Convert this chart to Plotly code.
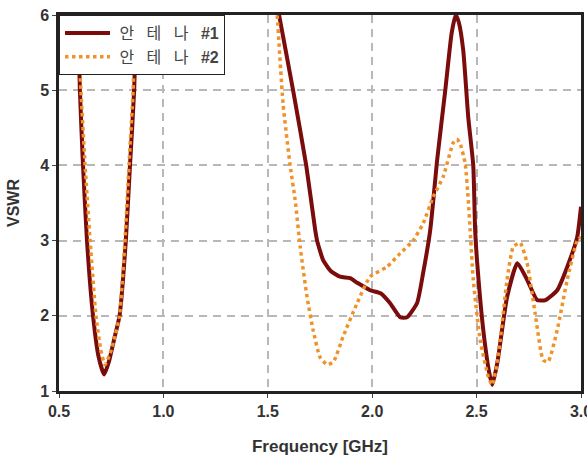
import plotly.graph_objects as go

# Antenna #1 (solid dark red)
freq1 = [0.50, 0.56, 0.591, 0.60, 0.615, 0.634, 0.663, 0.69, 0.716, 0.74, 0.765, 0.79, 0.82, 0.84, 0.86, 0.87, 0.89,
         1.10, 1.35, 1.52, 1.554, 1.621, 1.684, 1.727, 1.736, 1.765, 1.80, 1.846, 1.894, 1.928, 1.99, 2.04, 2.085,
         2.134, 2.167, 2.215, 2.244, 2.278, 2.311, 2.35, 2.38, 2.40, 2.415, 2.436, 2.46, 2.484, 2.493, 2.503, 2.532,
         2.56, 2.575, 2.599, 2.646, 2.695, 2.742, 2.79, 2.83, 2.886, 2.934, 2.982, 3.00]
vswr1 = [14.0, 8.5, 6.0, 5.0, 4.0, 3.0, 2.0, 1.45, 1.22, 1.4, 1.7, 2.0, 3.0, 4.0, 5.0, 6.0, 8.0,
         14.0, 14.0, 6.5, 6.0, 5.0, 4.0, 3.14, 3.0, 2.74, 2.6, 2.52, 2.50, 2.44, 2.34, 2.30, 2.17,
         1.98, 1.98, 2.17, 2.57, 3.14, 4.07, 5.0, 5.75, 6.0, 5.9, 5.53, 4.64, 4.0, 3.14, 2.70, 1.81,
         1.25, 1.08, 1.37, 2.25, 2.70, 2.48, 2.21, 2.21, 2.34, 2.65, 3.05, 3.45]

# Antenna #2 (dotted orange)
freq2 = [0.50, 0.56, 0.586, 0.605, 0.625, 0.649, 0.677, 0.70, 0.72, 0.745, 0.77, 0.79, 0.816, 0.835, 0.855, 0.865, 0.885,
         1.10, 1.35, 1.52, 1.545, 1.573, 1.607, 1.631, 1.655, 1.688, 1.717, 1.75, 1.784, 1.815, 1.86, 1.928, 1.99,
         2.07, 2.134, 2.196, 2.244, 2.292, 2.34, 2.388, 2.405, 2.42, 2.445, 2.46, 2.469, 2.484, 2.517, 2.556, 2.575,
         2.603, 2.646, 2.676, 2.709, 2.742, 2.78, 2.819, 2.843, 2.886, 2.934, 2.982, 3.00]
vswr2 = [14.0, 8.5, 6.0, 5.0, 4.0, 3.0, 2.0, 1.55, 1.35, 1.5, 1.75, 2.0, 3.0, 4.0, 5.0, 6.0, 8.0,
         14.0, 14.0, 7.0, 6.0, 4.82, 4.0, 3.54, 2.92, 2.25, 1.81, 1.45, 1.35, 1.39, 1.72, 2.17, 2.52,
         2.65, 2.83, 3.0, 3.23, 3.58, 3.85, 4.30, 4.35, 4.30, 4.03, 3.54, 3.14, 2.48, 1.68, 1.19, 1.08,
         1.45, 2.48, 2.92, 2.97, 2.70, 2.04, 1.41, 1.39, 1.81, 2.48, 3.0, 3.05]

SP = "\u2002\u00a0"
names = ["\u00a0안" + SP + "테" + SP + "나" + SP + "<b>#1</b>",
         "\u00a0안" + SP + "테" + SP + "나" + SP + "<b>#2</b>"]
x_ticks = [0.5, 1.0, 1.5, 2.0, 2.5, 3.0]
x_tick_text = ["0.5", "1.0", "1.5", "2.0", "2.5", "3.0"]
y_ticks = [1, 2, 3, 4, 5, 6]

font_fam = "Liberation Sans, Arial, Noto Sans CJK KR, sans-serif"

fig = go.Figure()
fig.add_trace(go.Scatter(x=freq1, y=vswr1, mode="lines", name=names[0],
                         line=dict(color="#7a0c0c", width=4, shape="spline", smoothing=0.5)))
fig.add_trace(go.Scatter(x=freq2, y=vswr2, mode="lines", name=names[1],
                         line=dict(color="#f0922a", width=3.5, dash="3.5px,3.5px", shape="spline", smoothing=0.5)))

fig.update_layout(
    width=587, height=460,
    margin=dict(l=59, r=6, t=15, b=69, autoexpand=False),
    paper_bgcolor="white", plot_bgcolor="white",
    font=dict(family=font_fam, size=16, color="#222"),
    showlegend=True,
    legend=dict(x=0, y=1, xanchor="left", yanchor="top",
                bgcolor="white", bordercolor="#222", borderwidth=1,
                font=dict(family="Liberation Sans, Noto Sans CJK KR", size=16, color="#444"),
                itemwidth=45, tracegroupgap=0),
)
fig.update_xaxes(range=[0.5, 3.0], tickvals=x_ticks, ticktext=x_tick_text,
                 showgrid=True, gridcolor="#b8b8b8", griddash="8px,6px", gridwidth=1.5,
                 showline=True, linecolor="#222", linewidth=2.5, mirror=True,
                 ticks="outside", ticklen=4, tickcolor="#444", tickwidth=1,
                 ticklabeloverflow="allow", automargin=False,
                 tickfont=dict(family=font_fam, size=16, color="#333", weight="bold"),
                 title=dict(text="<b>Frequency [GHz]</b>", font=dict(size=17, color="#333"), standoff=22),
                 zeroline=False)
fig.update_yaxes(range=[1, 6], tickvals=y_ticks, automargin=False,
                 showgrid=True, gridcolor="#b8b8b8", griddash="8px,6px", gridwidth=1.5,
                 showline=True, linecolor="#222", linewidth=2.5, mirror=True,
                 ticks="outside", ticklen=4, tickcolor="#444", tickwidth=1,
                 tickfont=dict(family=font_fam, size=16, color="#333", weight="bold"),
                 title=dict(text="<b>VSWR</b>", font=dict(size=16, color="#333"), standoff=17),
                 zeroline=False)

fig.write_html("out.html")
